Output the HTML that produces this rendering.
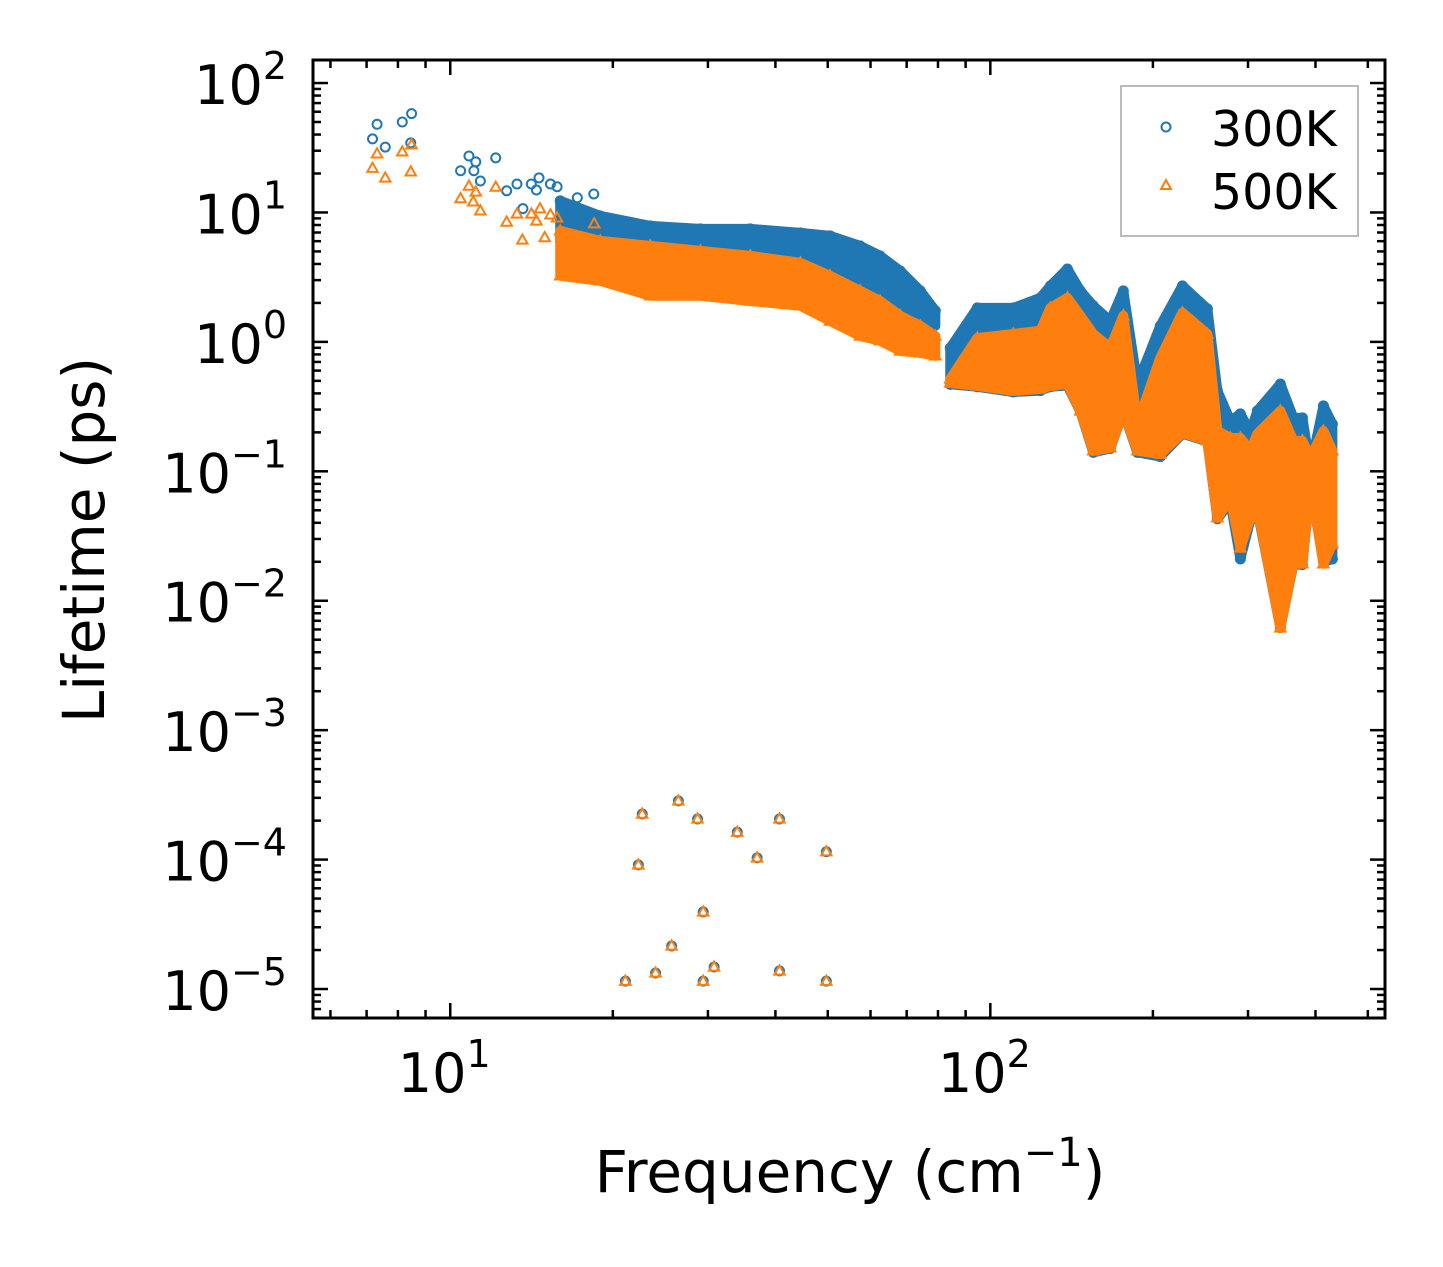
<!DOCTYPE html>
<html><head><meta charset="utf-8"><style>
html,body{margin:0;padding:0;background:#fff}
svg{display:block;font-family:"DejaVu Sans","Liberation Sans",sans-serif}
</style></head><body>
<svg id="chart" width="1443" height="1267" viewBox="0 0 1443 1267" xmlns="http://www.w3.org/2000/svg">
<rect x="0" y="0" width="1443" height="1267" fill="#fff"/>
<g id="plot"></g>
</svg>
<script>
// ---- data ----
const sparseFreq = [7.18,7.32,7.58,8.15,8.48,8.45,10.45,10.83,11.15,11.06,11.37,12.14,12.72,13.29,14.13,14.60,14.44,15.33,15.77,13.63,18.44,17.19];
const sparse300 = [37,48,32,50,58,34.5,21,27.3,24.6,21,17.5,26.4,14.7,16.6,16.6,18.5,14.9,16.6,15.8,10.7,13.9,13.0];
const sparseFreq500 = [7.18,7.32,7.58,8.15,8.48,8.45,10.45,10.83,11.15,11.03,11.37,12.14,12.72,13.29,13.6,14.13,14.44,14.66,15.33,15.77,14.96,17.6,18.47,18.47];
const sparse500 = [22,28.4,18.5,29.4,33.3,20.6,12.8,16.0,14.4,12.1,10.3,15.7,8.44,9.74,6.13,9.74,8.6,10.7,9.6,9.1,6.4,3.73,3.18,8.2];
const bandFreqA = [15.98,18.96,23.46,29.04,35.94,44.5,50.5,57.4,62.5,68.1,74.2,79.1];
const band300HiA = [12.3,9.41,7.88,7.47,7.47,6.96,6.60,5.52,4.62,3.54,2.48,1.74];
const band300LoA = [6.03,5.05,4.62,4.62,4.62,4.08,3.54,2.48,2.07,1.90,1.45,1.33];
const band500HiA = [7.21,6.03,5.52,5.05,4.62,4.08,3.24,2.48,2.07,1.59,1.33,1.11];
const band500LoA = [3.24,2.96,2.27,2.27,2.07,1.90,1.45,1.11,1.02,0.852,0.822,0.78];
const bandFreqB = [84.3,94.6,110.3,123.8,129.2,138.9,146.8,155.1,166.8,176.3,187.2,206.4,226.8,252.3,263.3,278.3,290.4,303.0,312.2,344.4,364.0,378.3,391.4,413.8,429.9];
const band300HiB = [0.899,1.83,1.83,2.19,2.71,3.66,2.48,1.90,1.45,2.48,0.473,1.33,2.71,1.80,0.418,0.245,0.278,0.2,0.293,0.473,0.259,0.259,0.106,0.320,0.232];
const band300LoB = [0.47,0.45,0.41,0.42,0.45,0.46,0.29,0.14,0.15,0.29,0.14,0.13,0.195,0.17,0.043,0.058,0.021,0.042,0.05,0.0062,0.019,0.019,0.078,0.02,0.021];
const band500HiB = [0.518,1.07,1.15,1.22,1.83,2.19,1.59,1.15,0.899,1.59,0.232,0.752,1.68,1.15,0.205,0.181,0.181,0.144,0.195,0.293,0.172,0.172,0.127,0.205,0.144];
const band500LoB = [0.482,0.457,0.418,0.433,0.457,0.473,0.293,0.144,0.152,0.293,0.144,0.136,0.198,0.172,0.0437,0.0623,0.0256,0.0437,0.0521,0.00616,0.0193,0.0193,0.080,0.0193,0.0275];
const outFreq = [22.67,22.3,26.45,28.7,34.0,37.0,40.7,49.7,29.4,25.7,24.0,21.1,29.4,30.8,40.7,49.7];
const outLife = [2.25e-4,9.1e-5,2.84e-4,2.06e-4,1.63e-4,1.03e-4,2.06e-4,1.15e-4,3.94e-5,2.15e-5,1.33e-5,1.15e-5,1.15e-5,1.48e-5,1.38e-5,1.15e-5];
const yTickExp = [2,1,0,-1,-2,-3,-4,-5];
const xTickExp = [1,2];

// ---- axes ----
const L=313,R=1385,T=60,B=1018;
const X0=Math.log10(5.57), X1=Math.log10(538);
const Y0=-5.224, Y1=2.178;
const sx=f=>L+(Math.log10(f)-X0)/(X1-X0)*(R-L);
const sy=v=>B-(Math.log10(v)-Y0)/(Y1-Y0)*(B-T);
const NS="http://www.w3.org/2000/svg";
const plot=document.getElementById('plot');
function mk(tag,attrs,parent){const e=document.createElementNS(NS,tag);for(const k in attrs)e.setAttribute(k,attrs[k]);(parent||plot).appendChild(e);return e;}
const BLUE="#1f77b4", ORANGE="#ff7f0e";

const clip=mk('clipPath',{id:'cp'});mk('rect',{x:L,y:T,width:R-L,height:B-T},clip);
const data=mk('g',{'clip-path':'url(#cp)'});



function circle(f,v,g){const c=mk('circle',{cx:sx(f),cy:sy(v),r:4.5,fill:'none',stroke:BLUE,'stroke-width':2},g);

}
function tri(f,v,g){const x=sx(f),y=sy(v);const p=mk('polygon',{points:`${x},${y-5.5} ${x-5.2},${y+3.7} ${x+5.2},${y+3.7}`,fill:'none',stroke:ORANGE,'stroke-width':2},g);

}
function band(fr,hi,lo,color,name,g){
  let pts=[];for(let i=0;i<fr.length;i++)pts.push(sx(fr[i])+','+sy(hi[i]));
  for(let i=fr.length-1;i>=0;i--)pts.push(sx(fr[i])+','+sy(lo[i]));
  const p=mk('polygon',{points:pts.join(' '),fill:color,stroke:color,'stroke-width':10,'stroke-linejoin':'round'},g);
  
  
}
const g300=mk('g',{},data);


band(bandFreqA,band300HiA,band300LoA,BLUE,'band-300k-low',g300);
band(bandFreqB,band300HiB,band300LoB,BLUE,'band-300k-high',g300);
sparseFreq.forEach((f,i)=>circle(f,sparse300[i],g300));
bandFreqA.forEach((f,i)=>circle(f,band300HiA[i],g300));
bandFreqB.forEach((f,i)=>{circle(f,band300HiB[i],g300);circle(f,band300LoB[i],g300);});
outFreq.forEach((f,i)=>circle(f,outLife[i],g300));
const g500=mk('g',{},data);


band(bandFreqA,band500HiA,band500LoA,ORANGE,'band-500k-low',g500);
band(bandFreqB,band500HiB,band500LoB,ORANGE,'band-500k-high',g500);
sparseFreq500.forEach((f,i)=>tri(f,sparse500[i],g500));
bandFreqA.forEach((f,i)=>{tri(f,band500HiA[i],g500);tri(f,band500LoA[i],g500);});
bandFreqB.forEach((f,i)=>{tri(f,band500HiB[i],g500);tri(f,band500LoB[i],g500);});
outFreq.forEach((f,i)=>tri(f,outLife[i],g500));

// ticks
const tk=mk('g',{stroke:'#000','stroke-width':2.5});


for(let e=0;e<=2;e++)for(let m=1;m<10;m++){const f=m*Math.pow(10,e);if(f<5.57||f>538)continue;const x=sx(f);const len=m===1?15:8;
  mk('line',{x1:x,y1:B,x2:x,y2:B-len},tk);mk('line',{x1:x,y1:T,x2:x,y2:T+len},tk);}
for(let e=-6;e<=2;e++)for(let m=1;m<10;m++){const v=m*Math.pow(10,e);const y=sy(v);if(y<T||y>B)continue;const len=m===1?15:8;
  mk('line',{x1:L,y1:y,x2:L+len,y2:y},tk);mk('line',{x1:R,y1:y,x2:R-len,y2:y},tk);}
mk('rect',{x:L,y:T,width:R-L,height:B-T,fill:'none',stroke:'#000','stroke-width':3});

// tick labels
yTickExp.forEach(e=>{const t=mk('text',{x:287,y:sy(Math.pow(10,e))+21,'text-anchor':'end','font-size':54,fill:'#000'});
  
  
  t.innerHTML='10<tspan dy="-25" font-size="38">'+(e<0?'\u2212'+(-e):e)+'</tspan>';});
xTickExp.forEach(e=>{const t=mk('text',{x:sx(Math.pow(10,e))-6,y:1092,'text-anchor':'middle','font-size':54,fill:'#000'});
  
  
  t.innerHTML='10<tspan dy="-25" font-size="38">'+e+'</tspan>';});

// axis titles
const xt=mk('text',{x:850,y:1192,'text-anchor':'middle','font-size':58,fill:'#000'});


xt.innerHTML='Frequency (cm<tspan dy="-26" font-size="40">\u22121</tspan><tspan dy="26">)</tspan>';
const yt=mk('text',{x:0,y:0,'text-anchor':'middle','font-size':58,fill:'#000',transform:'translate(104,540) rotate(-90)'});


yt.textContent='Lifetime (ps)';

// legend
const lg=mk('g',{});


mk('rect',{x:1121,y:86,width:237,height:150,fill:'#fff',stroke:'#bbb','stroke-width':2},lg);
const lc=mk('circle',{cx:1166,cy:127,r:4.5,fill:'none',stroke:BLUE,'stroke-width':2},lg);


const l1=mk('text',{x:1211,y:146,'font-size':49,fill:'#000'},lg);l1.textContent='300K';


const lt=mk('polygon',{points:'1166,180 1161,189 1171,189',fill:'none',stroke:ORANGE,'stroke-width':2},lg);


const l2=mk('text',{x:1211,y:209,'font-size':49,fill:'#000'},lg);l2.textContent='500K';


</script>
</body></html>
